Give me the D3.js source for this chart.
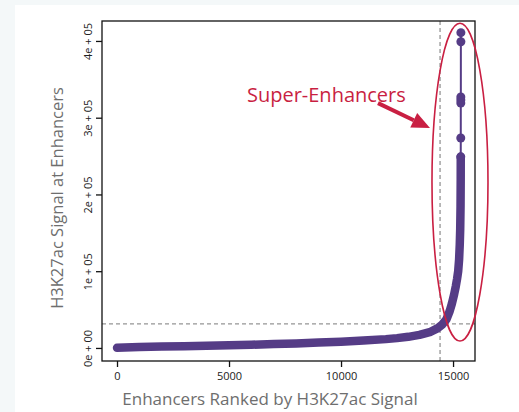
<!DOCTYPE html>
<html><head><meta charset="utf-8">
<script src="https://cdn.jsdelivr.net/npm/d3@7/dist/d3.min.js"></script>
<style>body{margin:0;background:#f4f8f9;}svg{display:block;}</style>
</head><body>
<script>
// Dense body of the ranked-enhancer curve (rank, signal)
const bodyRank   = [1, 1000, 2000, 3000, 4000, 5000, 6000, 7000, 8000, 9000, 10000, 11000, 12000, 12500, 13000, 13500, 14000, 14300, 14500, 14700, 14850, 14950, 15050, 15120, 15180, 15230, 15270, 15300, 15320, 15335, 15342, 15344];
const bodySignal = [200, 1200, 1800, 2300, 2900, 3500, 4200, 5000, 5900, 7000, 8200, 9700, 11500, 12800, 14500, 17000, 21000, 25500, 30000, 37000, 48000, 58000, 70000, 80000, 90000, 100000, 115000, 135000, 155000, 185000, 220000, 249000];
// Sparse top enhancers drawn as separate dots
const topRank   = [15344, 15345, 15346, 15347, 15348, 15349, 15350];
const topSignal = [249000, 273500, 319000, 323000, 327000, 399000, 410800];
// Axis ticks
const xTicks = [0, 5000, 10000, 15000];
const xTickLabels = ["0", "5000", "10000", "15000"];
const yTicks = [0, 100000, 200000, 300000, 400000];
const yTickLabels = ["0e + 00", "1e + 05", "2e + 05", "3e + 05", "4e + 05"];
// Super-enhancer cutoff
const cutoffRank = 14420;
const cutoffSignal = 31300;

const W = 519, H = 412;
const purple = "#553c86", red = "#c91f42", gray = "#6e6e6e";
const svg = d3.select("body").append("svg").attr("width", W).attr("height", H);
svg.append("rect").attr("width", W).attr("height", H).attr("fill", "#f4f8f9");
svg.append("rect").attr("x", 15).attr("y", 5).attr("width", W - 15).attr("height", H - 5).attr("fill", "#ffffff");

const x = d3.scaleLinear().domain([-670, 15980]).range([102, 475]);
const y = d3.scaleLinear().domain([-17000, 426000]).range([361, 21]);

const font = "'Open Sans', 'Noto Sans', sans-serif";

// dashed cutoff lines
svg.append("line").attr("x1", x.range()[0]).attr("x2", x.range()[1])
  .attr("y1", y(cutoffSignal)).attr("y2", y(cutoffSignal))
  .attr("stroke", "#959595").attr("stroke-width", 1.3).attr("stroke-dasharray", "4,3");
svg.append("line").attr("x1", x(cutoffRank)).attr("x2", x(cutoffRank))
  .attr("y1", y.range()[0]).attr("y2", y.range()[1])
  .attr("stroke", "#959595").attr("stroke-width", 1.3).attr("stroke-dasharray", "4,3");

// curve
const body = bodyRank.map((r, i) => [r, bodySignal[i]]);
const tops = topRank.map((r, i) => [r, topSignal[i]]);
const line = d3.line().x(d => x(d[0])).y(d => y(d[1]));
svg.append("path").attr("d", line(body)).attr("fill", "none")
  .attr("stroke", purple).attr("stroke-width", 8.5).attr("stroke-linecap", "round").attr("stroke-linejoin", "round");
svg.append("path").attr("d", line(tops)).attr("fill", "none")
  .attr("stroke", purple).attr("stroke-width", 2);
svg.selectAll("circle.top").data(tops).enter().append("circle")
  .attr("cx", d => x(d[0])).attr("cy", d => y(d[1])).attr("r", 4.5).attr("fill", purple);

// frame
svg.append("rect").attr("x", 102).attr("y", 21).attr("width", 373).attr("height", 340)
  .attr("fill", "none").attr("stroke", "#111").attr("stroke-width", 1.3);

// axes
const xAxis = d3.axisBottom(x).tickValues(xTicks).tickFormat((d, i) => xTickLabels[i]).tickSize(6).tickPadding(5);
const gx = svg.append("g").attr("transform", `translate(0,${y.range()[0]})`).call(xAxis);
gx.select(".domain").remove();
gx.selectAll("line").attr("stroke", "#111").attr("stroke-width", 1.3);
gx.selectAll("text").attr("font-family", font).attr("font-size", 11).attr("fill", "#222");

const yAxis = d3.axisLeft(y).tickValues(yTicks).tickFormat((d, i) => yTickLabels[i]).tickSize(6);
const gy = svg.append("g").attr("transform", `translate(${x.range()[0]},0)`).call(yAxis);
gy.select(".domain").remove();
gy.selectAll("line").attr("stroke", "#111").attr("stroke-width", 1.3);
gy.selectAll("text").attr("font-family", font).attr("font-size", 11).attr("fill", "#222")
  .attr("x", null).attr("dy", null).attr("text-anchor", "middle")
  .attr("transform", "translate(-10,0) rotate(-90)");

// axis titles
svg.append("text").attr("x", 270).attr("y", 405).attr("text-anchor", "middle")
  .attr("font-family", font).attr("font-size", 17).attr("fill", gray)
  .text("Enhancers Ranked by H3K27ac Signal");
svg.append("text").attr("transform", "translate(63,198) rotate(-90)").attr("text-anchor", "middle")
  .attr("font-family", font).attr("font-size", 16.5).attr("fill", gray)
  .text("H3K27ac Signal at Enhancers");

// annotation: ellipse, arrow, label
svg.append("ellipse").attr("cx", x(15310)).attr("cy", y(216000))
  .attr("rx", x(15310 + 1250) - x(15310)).attr("ry", y(216000) - y(216000 + 207000))
  .attr("fill", "none").attr("stroke", red).attr("stroke-width", 1.6);

const a0 = [x(11650), y(319000)], a1 = [x(13970), y(286600)];
const ang = Math.atan2(a1[1] - a0[1], a1[0] - a0[0]);
const hl = 18, hw = 8;
const base = [a1[0] - hl * Math.cos(ang), a1[1] - hl * Math.sin(ang)];
svg.append("line").attr("x1", a0[0]).attr("y1", a0[1]).attr("x2", base[0]).attr("y2", base[1])
  .attr("stroke", red).attr("stroke-width", 4);
svg.append("path").attr("d", d3.line()([
  a1,
  [base[0] + hw * Math.sin(ang), base[1] - hw * Math.cos(ang)],
  [base[0] - hw * Math.sin(ang), base[1] + hw * Math.cos(ang)]
]) + "Z").attr("fill", red);

svg.append("text").attr("x", x(5800)).attr("y", y(320500))
  .attr("font-family", font).attr("font-size", 20).attr("fill", red)
  .text("Super-Enhancers");
</script>
</body></html>
